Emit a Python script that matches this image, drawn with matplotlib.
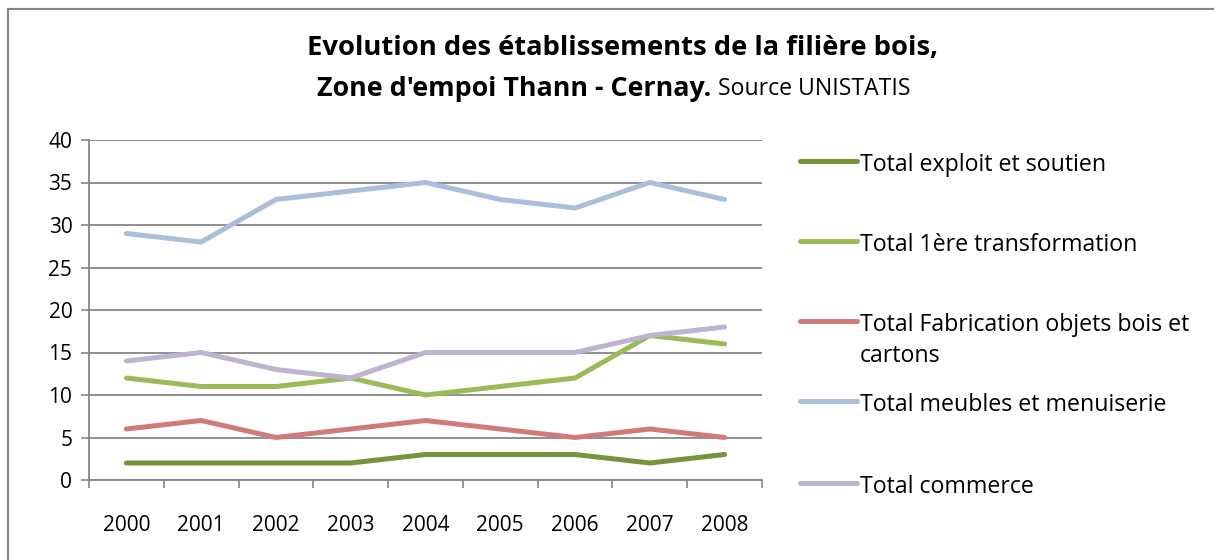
import matplotlib
matplotlib.use("Agg")
import matplotlib.pyplot as plt
from matplotlib.patches import Rectangle
from matplotlib.lines import Line2D

years = ["2000", "2001", "2002", "2003", "2004", "2005", "2006", "2007", "2008"]
exploit = [2, 2, 2, 2, 3, 3, 3, 2, 3]
transfo = [12, 11, 11, 12, 10, 11, 12, 17, 16]
fabrication = [6, 7, 5, 6, 7, 6, 5, 6, 5]
meubles = [29, 28, 33, 34, 35, 33, 32, 35, 33]
commerce = [14, 15, 13, 12, 15, 15, 15, 17, 18]

labels = ["Total exploit et soutien", "Total 1ère transformation",
          "Total Fabrication objets bois et\ncartons",
          "Total meubles et menuiserie", "Total commerce"]
colors = ["#77933C", "#9BBB59", "#CF7B79", "#ABBFDB", "#BFB4CF"]

plt.rcParams['font.family'] = ['Open Sans', 'DejaVu Sans']
W, H = 1214, 560

fig = plt.figure(figsize=(W / 100, H / 100), dpi=100)
ax = fig.add_axes([89 / W, 1 - 480 / H, (762 - 89) / W, 340 / H])

x = list(range(len(years)))
for series, lab, col in zip([exploit, transfo, fabrication, meubles, commerce], labels, colors):
    ax.plot(x, series, color=col, linewidth=3.6, label=lab, solid_capstyle='round')

ax.set_xlim(-0.5, len(years) - 0.5)
ax.set_ylim(0, 40)
ax.set_yticks(range(0, 41, 5))
ax.set_xticks(x)
ax.set_xticklabels(years)
ax.set_xticks([i - 0.5 for i in range(len(years) + 1)], minor=True)
ax.tick_params(axis='x', which='major', length=0, labelsize=15, pad=25)
ax.tick_params(axis='x', which='minor', length=6, color='#868686', width=1.2, direction='out')
ax.tick_params(axis='y', length=6, color='#868686', width=1.2, labelsize=15, pad=6)
ax.yaxis.grid(True, color='#868686', linewidth=1.3)
ax.set_axisbelow(True)
for s in ['top', 'right']:
    ax.spines[s].set_visible(False)
for s in ['left', 'bottom']:
    ax.spines[s].set_color('#868686')
    ax.spines[s].set_linewidth(1.3)

# title, two lines, second line mixes bold and regular
fig.text(623 / W, 1 - 48 / H, "Evolution des établissements de la filière bois,",
         ha='center', va='center', fontsize=19.7, fontweight='bold')
fig.text(711 / W, 1 - 89 / H, "Zone d'empoi Thann - Cernay.", ha='right', va='center',
         fontsize=19.4, fontweight='bold')
fig.text(718 / W, 1 - 89 / H, "Source UNISTATIS", ha='left', va='center', fontsize=16.6)

# legend laid out like the Excel one: handle aligned with the first text line
leg_y = [161, 241, 321, 401, 483]
for yy, lab, col in zip(leg_y, labels, colors):
    fig.add_artist(Line2D([800 / W, 857 / W], [1 - yy / H, 1 - yy / H], color=col,
                          linewidth=3.6, solid_capstyle='round', transform=fig.transFigure))
    fig.text(860 / W, 1 - (yy - 8) / H, lab, ha='left', va='top', fontsize=16.7,
             linespacing=1.4)

fig.add_artist(Rectangle((8 / W, -0.1), 1.2, 1 - 8.5 / H + 0.1, transform=fig.transFigure,
                         fill=False, edgecolor='#868686', linewidth=1.5))

fig.savefig("out.png", dpi=100)
